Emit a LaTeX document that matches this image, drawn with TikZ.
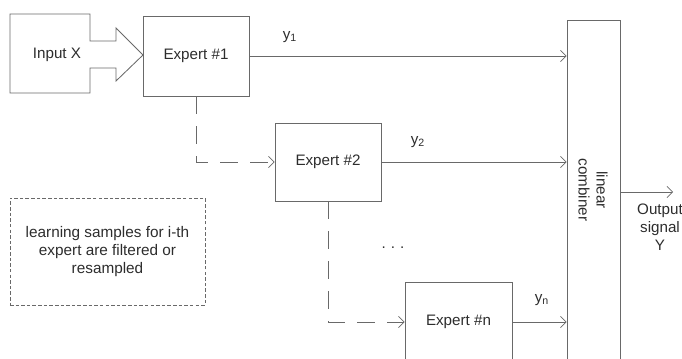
\documentclass[tikz,border=0pt]{standalone}
\usepackage{fontspec}
\setmainfont{Liberation Sans}
\usepackage{xcolor}
\definecolor{linegray}{RGB}{105,105,105}
\definecolor{textgray}{RGB}{45,45,45}
\usetikzlibrary{arrows.meta,positioning,calc}

\begin{document}
\begin{tikzpicture}[
  expbox/.style={draw=linegray, line width=0.6pt, minimum width=2.65cm, minimum height=2.0cm, font=\fontsize{10.8}{12.8}\selectfont, text=textgray, inner sep=0pt},
  notebox/.style={draw=linegray, line width=0.5pt, dash pattern=on 2.5pt off 1.5pt, minimum width=4.875cm, minimum height=2.675cm, align=center, font=\fontsize{10.9}{12.6}\selectfont, text=textgray},
  sigtext/.style={font=\fontsize{10.8}{12.8}\selectfont, text=textgray, inner sep=1pt},
  arrow/.style={-{Straight Barb[length=1.4mm,width=2.8mm]}, line width=0.5pt, color=linegray},
  dasharrow/.style={arrow, dash pattern=on 0.45cm off 0.3cm}
]
\useasboundingbox (0,0) rectangle (17.05,-8.975);

% input block arrow
\draw[linegray, line width=0.6pt] (0.25,-0.35) -- (2.25,-0.35) -- (2.25,-1.025) -- (2.9,-1.025) -- (2.9,-0.7)
  -- (3.575,-1.375) -- (2.9,-2.025) -- (2.9,-1.7) -- (2.25,-1.7) -- (2.25,-2.325) -- (0.25,-2.325) -- cycle;
\node[sigtext] (inx) at (1.425,-1.375) {Input X};

% experts
\node[expbox] (e1) at (4.9,-1.4) {Expert \#1};
\node[expbox, minimum height=1.95cm] (e2) at (8.2,-4.05) {Expert \#2};
\node[expbox, minimum width=2.675cm] (en) at (11.4625,-8.05) {Expert \#n};
\node[sigtext] (dots) at (9.825,-6.2) {.\,\,.\,\,.};

% combiner
\node[draw=linegray, line width=0.6pt, minimum width=1.325cm, minimum height=8.6cm, inner sep=0pt] (comb) at (14.8375,-4.8) {};
\node[sigtext, rotate=-90, align=center] (combtxt) at (14.825,-4.75) {linear\\combiner};

% outputs of the experts
\draw[arrow] (e1.east) -- (e1.east -| comb.west);
\draw[arrow] (e2.east) -- (e2.east -| comb.west);
\draw[arrow] (en.east) -- (en.east -| comb.west);
\node[sigtext] (y1) at (7.25,-0.925) {y\textsubscript{1}};
\node[sigtext] (y2) at (10.45,-3.55) {y\textsubscript{2}};
\node[sigtext] (yn) at (13.55,-7.5) {y\textsubscript{n}};

% resampled learning samples
\draw[dasharrow] (e1.south) |- (e2.west);
\draw[dasharrow] (e2.south) |- (en.west);
\node[notebox] (note) at (2.6875,-6.2875) {learning samples for i-th\\expert are filtered or\\resampled};

% output signal
\coordinate (yout) at (16.825,-4.8);
\draw[arrow] (comb.east) -- (yout);
\node[sigtext, align=center] (outtxt) at (16.5,-5.675) {Output\\signal\\Y};
\end{tikzpicture}
\end{document}
